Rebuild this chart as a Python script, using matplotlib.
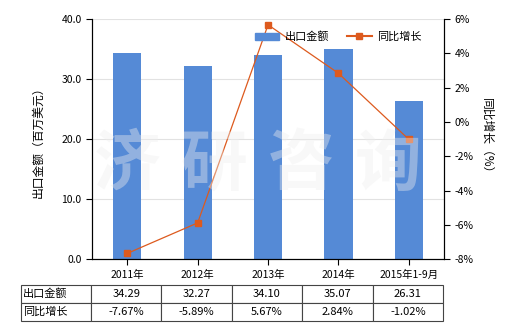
import matplotlib.pyplot as plt
from matplotlib.lines import Line2D
from matplotlib.patches import Patch

plt.rcParams['font.family'] = ['Noto Sans CJK SC', 'DejaVu Sans']
plt.rcParams['font.size'] = 7.5

years = ['2011年', '2012年', '2013年', '2014年', '2015年1-9月']
export_value = [34.29, 32.27, 34.10, 35.07, 26.31]
yoy_growth = [-7.67, -5.89, 5.67, 2.84, -1.02]

bar_color = '#558AD6'
line_color = '#DD5A1E'

fig = plt.figure(figsize=(5.2, 3.3), dpi=100)
ax = fig.add_axes([0.177, 0.215, 0.677, 0.727])
x = list(range(len(years)))

ax.bar(x, export_value, width=0.4, color=bar_color, zorder=2)
ax.set_xlim(-0.5, 4.5)
ax.set_ylim(0, 40)
ax.set_yticks([0, 10, 20, 30, 40])
ax.set_yticklabels(['0.0', '10.0', '20.0', '30.0', '40.0'])
ax.set_xticks(x)
ax.set_xticklabels(years)
ax.grid(axis='y', color='#e2e2e2', linewidth=0.8, zorder=0)
ax.spines['top'].set_visible(False)
ax.set_ylabel('出口金额（百万美元）', fontsize=8.5, labelpad=12)
ax.tick_params(length=4, width=0.8)

ax2 = ax.twinx()
ax2.plot(x, yoy_growth, color=line_color, linewidth=0.9, marker='s', markersize=5, zorder=3)
ax2.set_ylim(-8, 6)
ax2.set_yticks(range(-8, 7, 2))
ax2.set_yticklabels([f'{v}%' for v in range(-8, 7, 2)])
ax2.spines['top'].set_visible(False)
ax2.set_ylabel('同比增长（%）', fontsize=8.5, rotation=270, labelpad=14)
ax2.tick_params(length=4, width=0.8)

# watermark
for i, ch in enumerate('济研咨询'):
    fig.text((127 + 87 * i) / 520, 0.50, ch, fontsize=48, color='#eeeeee', alpha=0.4,
             ha='center', va='center', fontweight='bold', zorder=1)

handles = [Patch(color=bar_color), Line2D([], [], color=line_color, marker='s', markersize=4, linewidth=1.5)]
ax2.legend(handles, ['出口金额', '同比增长'], loc='upper right', ncol=2, frameon=False,
           bbox_to_anchor=(0.965, 0.99), fontsize=8, handlelength=2.2,
           handletextpad=0.5, columnspacing=1.6)

# data table under the axes
rows = [['出口金额'] + [f'{v:.2f}' for v in export_value],
        ['同比增长'] + [f'{v:.2f}%' for v in yoy_growth]]
left_w = 70 / 352
col_w = 1.0 / 5
tbl = ax.table(cellText=rows, cellLoc='center', colWidths=[left_w] + [col_w] * 5,
               bbox=[-left_w - 0.003, -0.258, 1.0 + left_w, 0.15])
tbl.auto_set_font_size(False)
tbl.set_fontsize(8)
for (r, c), cell in tbl.get_celld().items():
    cell.set_edgecolor('#444444')
    cell.set_linewidth(0.8)
    if c == 0:
        cell.set_text_props(ha='left')
        cell.PAD = 0.03

fig.savefig('out.png', dpi=100)
